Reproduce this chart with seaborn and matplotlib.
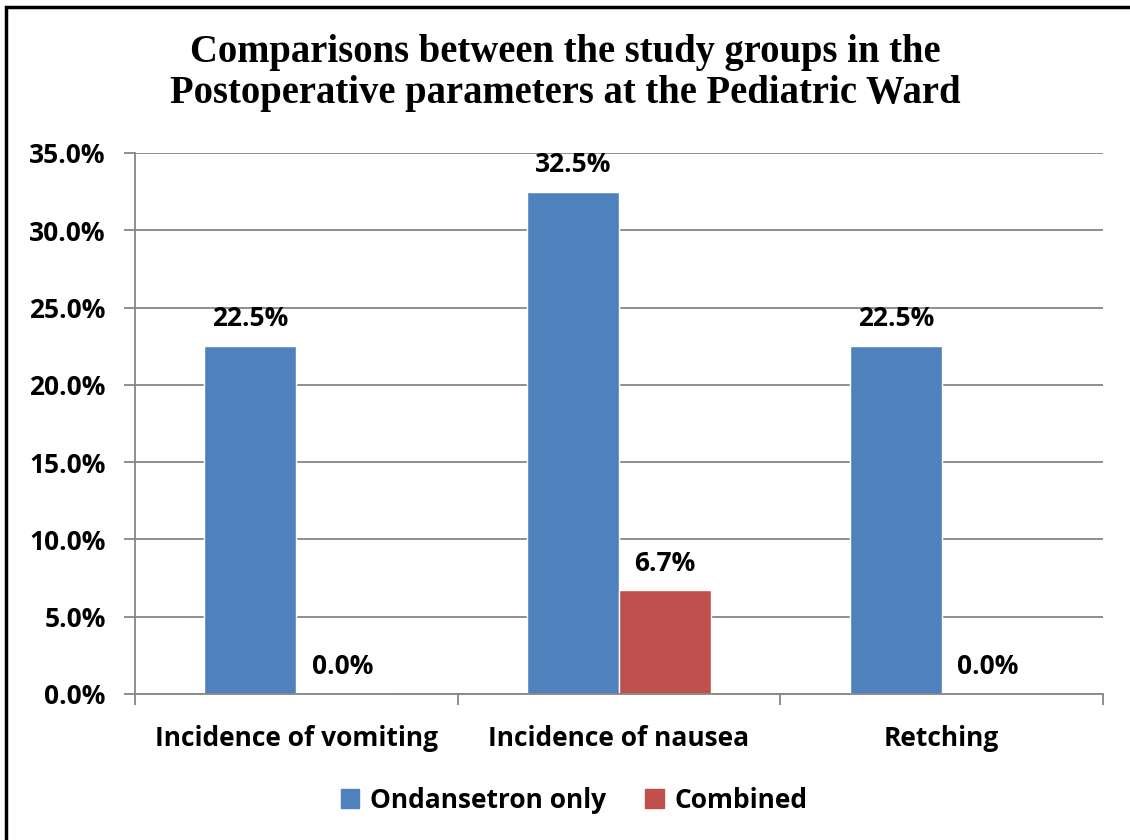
import matplotlib
matplotlib.use("Agg")
import matplotlib.pyplot as plt
import matplotlib.patches as mpatches
import seaborn as sns
import pandas as pd

categories = ["Incidence of vomiting", "Incidence of nausea", "Retching"]
groups = ["Ondansetron only", "Combined"]
ondansetron_only = [22.5, 32.5, 22.5]
combined = [0.0, 6.7, 0.0]
y_ticks = [0, 5, 10, 15, 20, 25, 30, 35]
palette = ["#4F81BD", "#C0504D"]

df = pd.DataFrame({
    "category": categories * 2,
    "group": [groups[0]] * 3 + [groups[1]] * 3,
    "value": ondansetron_only + combined,
})

sns.set_theme(style="white")
plt.rcParams["font.family"] = ["Open Sans", "DejaVu Sans"]
plt.rcParams["text.color"] = "black"
plt.rcParams["xtick.color"] = "black"
plt.rcParams["ytick.color"] = "black"

LABEL_SIZE = 19

fig = plt.figure(figsize=(11.3, 8.4), dpi=100)
ax = fig.add_axes([135 / 1130, 1 - 694 / 840, (1103 - 135) / 1130, (694 - 153) / 840])

sns.barplot(data=df, x="category", y="value", hue="group", palette=palette,
            width=0.57, saturation=1, ax=ax, legend=False)

for cont in ax.containers:
    ax.bar_label(cont, labels=[f"{b.get_height():.1f}%" for b in cont],
                 padding=10, fontsize=LABEL_SIZE, fontweight="bold", color="black")

ax.set_ylim(0, 35)
ax.set_xlim(-0.5, 2.5)
ax.set_yticks(y_ticks)
ax.set_yticklabels([f"{v:.1f}%" for v in y_ticks], fontsize=LABEL_SIZE, fontweight="bold")
ax.yaxis.grid(True, color="#868686", linewidth=1.3)
ax.set_axisbelow(True)

ax.set_xticks([0, 1, 2])
ax.set_xticklabels(categories, fontsize=LABEL_SIZE, fontweight="bold")
ax.set_xticks([-0.5, 0.5, 1.5, 2.5], minor=True)
ax.tick_params(axis="x", which="major", length=0, pad=22)
ax.tick_params(axis="x", which="minor", length=8, width=1.3, color="#868686", direction="out")
ax.tick_params(axis="y", length=8, width=1.3, color="#868686", labelcolor="black",
               direction="out", pad=13)
ax.tick_params(axis="x", labelcolor="black")
ax.xaxis.set_ticks_position("bottom")
ax.yaxis.set_ticks_position("left")
ax.set_xlabel("")
ax.set_ylabel("")

for side in ["top", "right"]:
    ax.spines[side].set_visible(False)
for side in ["left", "bottom"]:
    ax.spines[side].set_color("#868686")
    ax.spines[side].set_linewidth(1.3)

fig.text(0.5, 1 - 73 / 840,
         "Comparisons between the study groups in the\nPostoperative parameters at the Pediatric Ward",
         ha="center", va="center", fontsize=27.8, fontweight="bold", color="black",
         family="Liberation Serif", linespacing=1.12)

handles = [mpatches.Patch(color=c, label=g) for c, g in zip(palette, groups)]
fig.legend(handles=handles, loc="center", bbox_to_anchor=(0.508, 1 - 800 / 840),
           ncol=2, frameon=False, prop={"size": LABEL_SIZE, "weight": "bold"},
           handlelength=0.7, handleheight=0.7, columnspacing=1.5, handletextpad=0.4)

# outer frame
fig.patches.append(mpatches.Rectangle((6 / 1130, -0.01), 1.1, 1 - 7 / 840 + 0.01,
                                      transform=fig.transFigure, fill=False,
                                      edgecolor="black", linewidth=2.5))

fig.savefig("out.png", dpi=100)
